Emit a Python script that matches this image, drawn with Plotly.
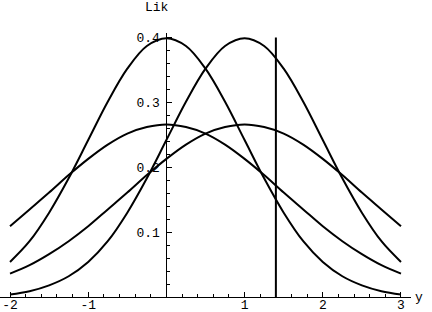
import plotly.graph_objects as go

# sample positions along the horizontal axis
x_vals = [-2.0, -1.75, -1.5, -1.25, -1.0, -0.75, -0.5, -0.25, 0.0, 0.25, 0.5,
          0.75, 1.0, 1.25, 1.5, 1.75, 2.0, 2.25, 2.5, 2.75, 3.0]

# curve peaked at 0, narrow
lik_a = [0.054, 0.086, 0.130, 0.183, 0.242, 0.301, 0.352, 0.387, 0.399, 0.387, 0.352,
         0.301, 0.242, 0.183, 0.130, 0.086, 0.054, 0.032, 0.018, 0.009, 0.004]
# curve peaked at 1, narrow
lik_b = [0.004, 0.009, 0.018, 0.032, 0.054, 0.086, 0.130, 0.183, 0.242, 0.301, 0.352,
         0.387, 0.399, 0.387, 0.352, 0.301, 0.242, 0.183, 0.130, 0.086, 0.054]
# curve peaked at 0, wide
lik_c = [0.109, 0.135, 0.161, 0.188, 0.213, 0.235, 0.252, 0.262, 0.266, 0.262, 0.252,
         0.235, 0.213, 0.188, 0.161, 0.135, 0.109, 0.086, 0.066, 0.049, 0.036]
# curve peaked at 1, wide
lik_d = [0.036, 0.049, 0.066, 0.086, 0.109, 0.135, 0.161, 0.188, 0.213, 0.235, 0.252,
         0.262, 0.266, 0.262, 0.252, 0.235, 0.213, 0.188, 0.161, 0.135, 0.109]

vline_x = [1.4, 1.4]
vline_y = [0.0, 0.4]

x_tick_vals = [-2, -1, 1, 2, 3]
x_tick_text = ["-2", "-1", "1", "2", "3"]
y_tick_vals = [0.1, 0.2, 0.3, 0.4]
y_tick_text = ["0.1", "0.2", "0.3", "0.4"]

FONT = "Liberation Mono, Courier New, monospace"

fig = go.Figure()
for ys in [lik_a, lik_b, lik_c, lik_d]:
    fig.add_trace(go.Scatter(x=x_vals, y=ys, mode="lines",
                             line=dict(color="black", width=2, shape="spline"),
                             showlegend=False, hoverinfo="skip"))
fig.add_trace(go.Scatter(x=vline_x, y=vline_y, mode="lines",
                         line=dict(color="black", width=2),
                         showlegend=False, hoverinfo="skip"))

x_range = [-2.128, 3.128]
y_pos = (0 - x_range[0]) / (x_range[1] - x_range[0])

fig.update_layout(
    width=432, height=312,
    margin=dict(l=0, r=21, t=33, b=15, autoexpand=False),
    paper_bgcolor="white", plot_bgcolor="white",
    font=dict(family=FONT, size=13, color="black"),
    xaxis=dict(range=x_range, showgrid=False, zeroline=False, automargin=False,
               showline=True, linecolor="black", linewidth=1,
               tickmode="array", tickvals=x_tick_vals, ticktext=x_tick_text,
               ticks="inside", ticklen=5, tickcolor="black", tickwidth=1,
               ticklabelstandoff=-5,
               minor=dict(ticks="inside", dtick=0.2, tick0=0, ticklen=3,
                          tickcolor="black", tickwidth=1, showgrid=False),
               tickfont=dict(family=FONT, size=13, color="black")),
    yaxis=dict(range=[0, 0.407], showgrid=False, zeroline=False, automargin=False,
               anchor="free", position=y_pos, side="left",
               showline=True, linecolor="black", linewidth=1,
               tickmode="array", tickvals=y_tick_vals, ticktext=y_tick_text,
               ticks="inside", ticklen=5, tickcolor="black", tickwidth=1,
               ticklabelstandoff=4,
               minor=dict(ticks="inside", dtick=0.02, tick0=0, ticklen=3,
                          tickcolor="black", tickwidth=1, showgrid=False),
               tickfont=dict(family=FONT, size=13, color="black")),
    annotations=[
        dict(text="Lik", xref="paper", yref="paper", x=0.382, y=1.095,
             showarrow=False, xanchor="center", yanchor="middle",
             font=dict(family=FONT, size=13, color="black")),
        dict(text="y", xref="paper", yref="paper", x=1.02, y=0.0,
             showarrow=False, xanchor="center", yanchor="middle",
             font=dict(family=FONT, size=13, color="black")),
    ],
)

fig.write_html("out.html", config={"displayModeBar": False},
               post_script="document.body.style.margin='0';document.body.style.overflow='hidden';")
